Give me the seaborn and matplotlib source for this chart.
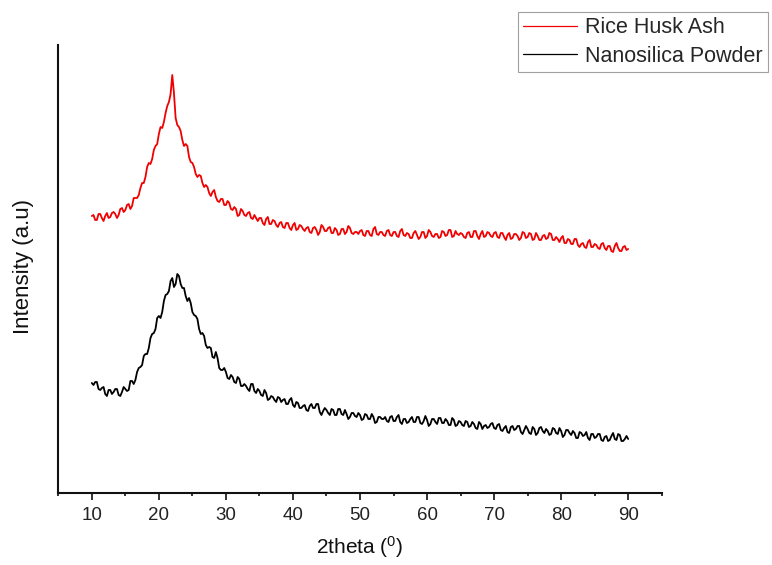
import matplotlib
matplotlib.use("Agg")
import matplotlib.pyplot as plt
from matplotlib.ticker import MultipleLocator
import seaborn as sns
import pandas as pd

# 2theta scan grid (degrees), 0.25 deg step
two_theta = [
    10.0, 10.25, 10.5, 10.75, 11.0, 11.25, 11.5, 11.75, 12.0, 12.25, 12.5, 12.75, 13.0, 13.25, 13.5, 13.75, 14.0, 14.25, 14.5, 14.75,
    15.0, 15.25, 15.5, 15.75, 16.0, 16.25, 16.5, 16.75, 17.0, 17.25, 17.5, 17.75, 18.0, 18.25, 18.5, 18.75, 19.0, 19.25, 19.5, 19.75,
    20.0, 20.25, 20.5, 20.75, 21.0, 21.25, 21.5, 21.75, 22.0, 22.25, 22.5, 22.75, 23.0, 23.25, 23.5, 23.75, 24.0, 24.25, 24.5, 24.75,
    25.0, 25.25, 25.5, 25.75, 26.0, 26.25, 26.5, 26.75, 27.0, 27.25, 27.5, 27.75, 28.0, 28.25, 28.5, 28.75, 29.0, 29.25, 29.5, 29.75,
    30.0, 30.25, 30.5, 30.75, 31.0, 31.25, 31.5, 31.75, 32.0, 32.25, 32.5, 32.75, 33.0, 33.25, 33.5, 33.75, 34.0, 34.25, 34.5, 34.75,
    35.0, 35.25, 35.5, 35.75, 36.0, 36.25, 36.5, 36.75, 37.0, 37.25, 37.5, 37.75, 38.0, 38.25, 38.5, 38.75, 39.0, 39.25, 39.5, 39.75,
    40.0, 40.25, 40.5, 40.75, 41.0, 41.25, 41.5, 41.75, 42.0, 42.25, 42.5, 42.75, 43.0, 43.25, 43.5, 43.75, 44.0, 44.25, 44.5, 44.75,
    45.0, 45.25, 45.5, 45.75, 46.0, 46.25, 46.5, 46.75, 47.0, 47.25, 47.5, 47.75, 48.0, 48.25, 48.5, 48.75, 49.0, 49.25, 49.5, 49.75,
    50.0, 50.25, 50.5, 50.75, 51.0, 51.25, 51.5, 51.75, 52.0, 52.25, 52.5, 52.75, 53.0, 53.25, 53.5, 53.75, 54.0, 54.25, 54.5, 54.75,
    55.0, 55.25, 55.5, 55.75, 56.0, 56.25, 56.5, 56.75, 57.0, 57.25, 57.5, 57.75, 58.0, 58.25, 58.5, 58.75, 59.0, 59.25, 59.5, 59.75,
    60.0, 60.25, 60.5, 60.75, 61.0, 61.25, 61.5, 61.75, 62.0, 62.25, 62.5, 62.75, 63.0, 63.25, 63.5, 63.75, 64.0, 64.25, 64.5, 64.75,
    65.0, 65.25, 65.5, 65.75, 66.0, 66.25, 66.5, 66.75, 67.0, 67.25, 67.5, 67.75, 68.0, 68.25, 68.5, 68.75, 69.0, 69.25, 69.5, 69.75,
    70.0, 70.25, 70.5, 70.75, 71.0, 71.25, 71.5, 71.75, 72.0, 72.25, 72.5, 72.75, 73.0, 73.25, 73.5, 73.75, 74.0, 74.25, 74.5, 74.75,
    75.0, 75.25, 75.5, 75.75, 76.0, 76.25, 76.5, 76.75, 77.0, 77.25, 77.5, 77.75, 78.0, 78.25, 78.5, 78.75, 79.0, 79.25, 79.5, 79.75,
    80.0, 80.25, 80.5, 80.75, 81.0, 81.25, 81.5, 81.75, 82.0, 82.25, 82.5, 82.75, 83.0, 83.25, 83.5, 83.75, 84.0, 84.25, 84.5, 84.75,
    85.0, 85.25, 85.5, 85.75, 86.0, 86.25, 86.5, 86.75, 87.0, 87.25, 87.5, 87.75, 88.0, 88.25, 88.5, 88.75, 89.0, 89.25, 89.5, 89.75,
    90.0,
]

# Rice Husk Ash intensity (a.u., offset)
rice_husk_ash = [
    277, 278, 273, 273, 279, 279, 275, 272, 277, 280, 275, 276, 280, 281, 279, 275, 278, 284, 285, 281,
    283, 288, 289, 284, 287, 295, 295, 295, 298, 305, 310, 310, 316, 326, 330, 329, 334, 343, 347, 349,
    359, 366, 365, 371, 380, 387, 391, 399, 418, 400, 375, 368, 366, 362, 353, 347, 349, 347, 336, 331,
    330, 326, 319, 316, 318, 317, 310, 306, 308, 306, 300, 297, 301, 303, 296, 292, 291, 294, 294, 288,
    288, 292, 290, 284, 283, 286, 284, 277, 278, 284, 282, 278, 277, 280, 281, 275, 274, 278, 275, 272,
    275, 275, 270, 268, 274, 276, 269, 269, 273, 272, 268, 266, 270, 271, 266, 265, 270, 270, 265, 263,
    268, 270, 263, 264, 268, 267, 264, 262, 265, 266, 261, 260, 265, 266, 263, 258, 261, 268, 266, 262,
    262, 265, 266, 260, 260, 265, 263, 258, 259, 264, 264, 259, 261, 267, 265, 260, 259, 261, 261, 259,
    262, 263, 258, 257, 262, 262, 258, 257, 264, 266, 259, 258, 261, 261, 258, 257, 262, 263, 258, 257,
    261, 261, 257, 256, 262, 264, 258, 257, 260, 259, 255, 255, 260, 262, 258, 254, 256, 261, 261, 255,
    257, 263, 261, 257, 256, 259, 259, 255, 256, 262, 261, 257, 258, 263, 263, 256, 257, 262, 259, 258,
    260, 259, 256, 255, 260, 261, 256, 256, 262, 262, 257, 254, 259, 262, 256, 257, 261, 260, 257, 256,
    260, 261, 256, 255, 260, 260, 256, 253, 258, 260, 254, 255, 259, 259, 257, 253, 255, 261, 260, 255,
    256, 260, 259, 253, 254, 260, 257, 253, 253, 257, 258, 254, 255, 260, 259, 253, 253, 256, 254, 251,
    255, 257, 250, 250, 254, 253, 249, 249, 254, 254, 248, 246, 249, 250, 246, 245, 251, 253, 246, 246,
    249, 248, 245, 244, 249, 250, 245, 243, 247, 247, 242, 241, 247, 250, 245, 242, 242, 246, 247, 243,
    244,
]

# Nanosilica Powder intensity (a.u., offset)
nanosilica_powder = [
    110, 108, 111, 111, 104, 103, 105, 106, 99, 97, 103, 103, 99, 101, 104, 104, 98, 97, 101, 106,
    104, 102, 103, 112, 112, 109, 113, 121, 125, 126, 128, 137, 139, 139, 145, 155, 159, 160, 164, 175,
    177, 175, 181, 192, 198, 199, 202, 212, 215, 206, 209, 219, 217, 209, 205, 205, 197, 192, 195, 190,
    181, 178, 177, 174, 164, 159, 160, 157, 148, 145, 146, 145, 136, 135, 141, 135, 125, 123, 123, 125,
    121, 115, 114, 118, 116, 111, 110, 116, 114, 107, 107, 109, 107, 104, 102, 109, 109, 102, 100, 104,
    102, 98, 97, 103, 100, 93, 94, 97, 96, 93, 91, 96, 95, 91, 93, 94, 89, 89, 93, 95,
    88, 86, 91, 90, 85, 85, 87, 88, 83, 82, 87, 89, 85, 85, 89, 89, 81, 78, 82, 85,
    83, 80, 78, 84, 83, 78, 78, 84, 84, 79, 78, 83, 79, 74, 76, 80, 80, 77, 76, 80,
    78, 73, 74, 79, 78, 74, 74, 79, 76, 70, 71, 76, 76, 74, 74, 76, 72, 71, 76, 77,
    72, 72, 76, 78, 71, 69, 74, 74, 70, 71, 74, 76, 71, 71, 76, 76, 70, 69, 72, 77,
    73, 67, 69, 74, 74, 71, 69, 75, 75, 70, 70, 74, 72, 68, 68, 75, 73, 67, 68, 72,
    71, 68, 67, 72, 71, 66, 67, 71, 69, 65, 64, 71, 69, 64, 67, 68, 65, 66, 69, 70,
    65, 64, 68, 69, 63, 62, 65, 67, 61, 60, 66, 67, 63, 64, 67, 67, 61, 59, 63, 67,
    64, 60, 59, 66, 64, 58, 60, 65, 66, 62, 60, 64, 62, 58, 59, 65, 64, 60, 59, 65,
    62, 56, 58, 63, 63, 60, 58, 62, 60, 55, 55, 61, 60, 57, 58, 61, 55, 53, 59, 59,
    55, 56, 59, 59, 53, 52, 56, 57, 52, 53, 57, 60, 54, 53, 59, 58, 52, 52, 54, 57,
    54,
]

series_names = ["Rice Husk Ash", "Nanosilica Powder"]
x_ticks = [10, 20, 30, 40, 50, 60, 70, 80, 90]

df = pd.concat([
    pd.DataFrame({"x": two_theta, "y": rice_husk_ash, "sample": series_names[0]}),
    pd.DataFrame({"x": two_theta, "y": nanosilica_powder, "sample": series_names[1]}),
], ignore_index=True)

sns.set_style("white")
plt.rcParams["font.family"] = ["Liberation Sans", "DejaVu Sans"]
plt.rcParams["mathtext.fontset"] = "custom"
plt.rcParams["mathtext.rm"] = "Liberation Sans"
plt.rcParams["mathtext.it"] = "Liberation Sans"

fig = plt.figure(figsize=(7.72, 5.65), dpi=100)
ax = fig.add_axes([58.3 / 772, 1 - 493 / 565, (661.7 - 58.3) / 772, (493 - 45) / 565])

sns.lineplot(data=df, x="x", y="y", hue="sample", hue_order=series_names,
             palette=["#f00000", "#000000"], sort=False, estimator=None,
             linewidth=1.3, ax=ax)

ax.set_xlim(5, 95)
ax.set_ylim(0, 448)
ax.set_xticks(x_ticks)
ax.xaxis.set_minor_locator(MultipleLocator(5))
ax.tick_params(axis="x", which="major", direction="out", length=5, width=1.3,
               bottom=True, labelsize=13.5, pad=5, colors="#222222")
ax.tick_params(axis="x", which="minor", direction="out", length=2.3, width=1.3,
               bottom=True, colors="#222222")
ax.tick_params(axis="y", left=False, labelleft=False)
for s in ["top", "right"]:
    ax.spines[s].set_visible(False)
for s in ["left", "bottom"]:
    ax.spines[s].set_linewidth(1.5)
    ax.spines[s].set_color("#111111")

ax.set_xlabel("2theta ($^0$)", fontsize=15, labelpad=7, color="#111111")
ax.set_ylabel("Intensity (a.u)", fontsize=16, color="#111111")
ax.yaxis.set_label_coords((34 - 58.3) / 603.4, (493 - 267) / 448)

handles, labels = ax.get_legend_handles_labels()
ax.get_legend().remove()
for h in handles:
    h.set_linewidth(0.9)
leg = fig.legend(handles, labels, loc="upper left",
                 bbox_to_anchor=(518 / 772, 1 - 12 / 565),
                 fontsize=15.5, frameon=True, fancybox=False,
                 handlelength=2.5, handletextpad=0.35, borderpad=0.25,
                 labelspacing=0.35, borderaxespad=0)
leg.get_frame().set_edgecolor("#888888")
leg.get_frame().set_linewidth(0.8)

fig.savefig("out.png", dpi=100)
